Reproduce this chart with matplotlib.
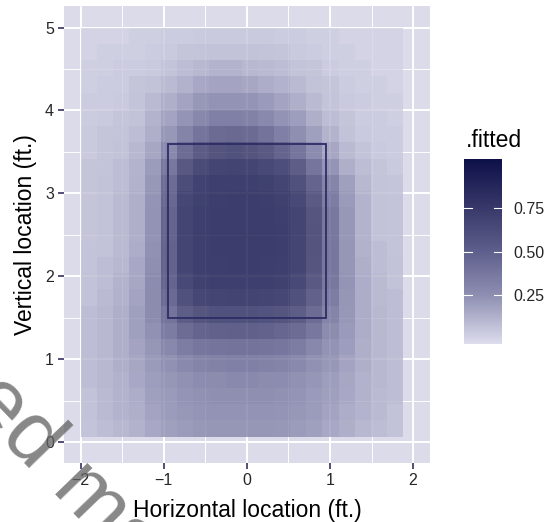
import numpy as np
import matplotlib.pyplot as plt
from matplotlib.colors import LinearSegmentedColormap, Normalize
from matplotlib.cm import ScalarMappable
from matplotlib.patches import Rectangle

plt.rcParams['font.family'] = ['Liberation Sans', 'DejaVu Sans']

# tile centres (ft.)
plate_x = [-1.90, -1.71, -1.52, -1.32, -1.13, -0.93, -0.74, -0.55, -0.35, -0.16,
           0.04, 0.23, 0.43, 0.62, 0.81, 1.01, 1.20, 1.40, 1.59, 1.78]
# rows listed from top to bottom
plate_z = [4.90, 4.70, 4.51, 4.31, 4.11, 3.91, 3.72, 3.52, 3.32, 3.12, 2.93, 2.73, 2.53,
           2.33, 2.14, 1.94, 1.74, 1.54, 1.34, 1.15, 0.95, 0.75, 0.55, 0.36, 0.16]

# fitted strike probability, one row per plate_z value
fitted = [
    [0.01, 0.01, 0.01, 0.03, 0.03, 0.04, 0.04, 0.05, 0.05, 0.05, 0.05, 0.05, 0.04, 0.04, 0.03, 0.03, 0.01, 0.01, 0.01, 0.01],
    [0.01, 0.03, 0.03, 0.03, 0.04, 0.05, 0.07, 0.08, 0.09, 0.09, 0.09, 0.08, 0.07, 0.05, 0.04, 0.03, 0.03, 0.01, 0.01, 0.01],
    [0.03, 0.03, 0.04, 0.04, 0.05, 0.08, 0.11, 0.13, 0.15, 0.15, 0.13, 0.12, 0.11, 0.08, 0.07, 0.04, 0.03, 0.03, 0.01, 0.01],
    [0.03, 0.04, 0.04, 0.07, 0.09, 0.12, 0.16, 0.20, 0.22, 0.22, 0.21, 0.18, 0.16, 0.12, 0.09, 0.07, 0.04, 0.03, 0.03, 0.01],
    [0.04, 0.04, 0.05, 0.08, 0.12, 0.17, 0.22, 0.29, 0.32, 0.32, 0.31, 0.27, 0.22, 0.17, 0.12, 0.08, 0.05, 0.04, 0.03, 0.03],
    [0.04, 0.05, 0.07, 0.09, 0.15, 0.22, 0.31, 0.39, 0.44, 0.45, 0.43, 0.38, 0.32, 0.25, 0.17, 0.11, 0.07, 0.04, 0.04, 0.03],
    [0.05, 0.07, 0.08, 0.11, 0.17, 0.29, 0.42, 0.53, 0.60, 0.62, 0.60, 0.54, 0.45, 0.35, 0.24, 0.15, 0.09, 0.05, 0.04, 0.04],
    [0.05, 0.07, 0.09, 0.13, 0.21, 0.38, 0.59, 0.73, 0.79, 0.81, 0.79, 0.75, 0.66, 0.52, 0.36, 0.21, 0.12, 0.08, 0.05, 0.04],
    [0.07, 0.08, 0.11, 0.15, 0.26, 0.50, 0.76, 0.87, 0.92, 0.93, 0.92, 0.89, 0.84, 0.71, 0.52, 0.31, 0.17, 0.11, 0.07, 0.05],
    [0.07, 0.09, 0.11, 0.16, 0.29, 0.59, 0.85, 0.94, 0.97, 0.97, 0.97, 0.96, 0.92, 0.82, 0.66, 0.41, 0.24, 0.13, 0.08, 0.07],
    [0.07, 0.09, 0.12, 0.17, 0.31, 0.63, 0.90, 0.96, 0.98, 0.99, 0.99, 0.98, 0.96, 0.89, 0.74, 0.46, 0.27, 0.15, 0.09, 0.08],
    [0.07, 0.09, 0.12, 0.17, 0.32, 0.66, 0.92, 0.97, 0.99, 0.99, 0.99, 0.99, 0.97, 0.92, 0.78, 0.50, 0.29, 0.15, 0.09, 0.08],
    [0.07, 0.09, 0.12, 0.17, 0.32, 0.66, 0.92, 0.97, 0.99, 0.99, 0.99, 0.99, 0.98, 0.92, 0.79, 0.50, 0.29, 0.15, 0.09, 0.08],
    [0.08, 0.09, 0.12, 0.18, 0.33, 0.67, 0.92, 0.97, 0.99, 0.99, 0.99, 0.99, 0.98, 0.92, 0.79, 0.51, 0.30, 0.16, 0.11, 0.08],
    [0.08, 0.11, 0.13, 0.20, 0.35, 0.67, 0.92, 0.97, 0.98, 0.99, 0.99, 0.98, 0.97, 0.92, 0.78, 0.51, 0.30, 0.17, 0.11, 0.09],
    [0.09, 0.11, 0.15, 0.21, 0.36, 0.66, 0.89, 0.95, 0.97, 0.97, 0.97, 0.97, 0.95, 0.89, 0.75, 0.50, 0.31, 0.18, 0.12, 0.09],
    [0.09, 0.12, 0.16, 0.22, 0.37, 0.61, 0.82, 0.90, 0.92, 0.93, 0.93, 0.92, 0.90, 0.82, 0.68, 0.46, 0.30, 0.18, 0.12, 0.11],
    [0.11, 0.13, 0.17, 0.24, 0.36, 0.54, 0.71, 0.78, 0.81, 0.82, 0.82, 0.80, 0.78, 0.71, 0.59, 0.42, 0.29, 0.18, 0.13, 0.11],
    [0.11, 0.13, 0.17, 0.24, 0.33, 0.47, 0.59, 0.65, 0.68, 0.69, 0.69, 0.67, 0.64, 0.59, 0.50, 0.37, 0.27, 0.18, 0.13, 0.11],
    [0.11, 0.13, 0.17, 0.22, 0.30, 0.39, 0.46, 0.51, 0.53, 0.54, 0.54, 0.53, 0.51, 0.46, 0.39, 0.32, 0.25, 0.17, 0.13, 0.11],
    [0.11, 0.13, 0.17, 0.21, 0.27, 0.33, 0.38, 0.42, 0.43, 0.44, 0.44, 0.43, 0.42, 0.38, 0.33, 0.29, 0.22, 0.17, 0.13, 0.11],
    [0.11, 0.13, 0.16, 0.20, 0.25, 0.30, 0.33, 0.36, 0.37, 0.38, 0.38, 0.37, 0.36, 0.33, 0.30, 0.25, 0.21, 0.16, 0.13, 0.11],
    [0.09, 0.12, 0.15, 0.18, 0.24, 0.27, 0.31, 0.33, 0.35, 0.35, 0.35, 0.35, 0.33, 0.31, 0.27, 0.24, 0.20, 0.16, 0.12, 0.11],
    [0.09, 0.12, 0.15, 0.17, 0.22, 0.26, 0.29, 0.31, 0.32, 0.32, 0.32, 0.32, 0.31, 0.29, 0.26, 0.22, 0.18, 0.15, 0.12, 0.09],
    [0.08, 0.11, 0.13, 0.16, 0.20, 0.24, 0.26, 0.29, 0.30, 0.30, 0.30, 0.30, 0.29, 0.26, 0.24, 0.20, 0.17, 0.13, 0.11, 0.09],
]

# strike zone box (ft.)
zone_x = [-0.95, 0.95]
zone_z = [1.5, 3.6]

legend_ticks = [0.25, 0.50, 0.75]

W, H = 553, 522
fig = plt.figure(figsize=(W / 100, H / 100), dpi=100)

# colour scale
vmin, vmax = -0.03, 1.03
stops = [vmin, 0.25, 0.50, 0.75, vmax]
cols = ['#dcdcec', '#8e8eb2', '#5f5f8d', '#38386a', '#0e1048']
cmap = LinearSegmentedColormap.from_list(
    'fit', [((s - vmin) / (vmax - vmin), c) for s, c in zip(stops, cols)])
norm = Normalize(vmin, vmax)

# main panel
ax = fig.add_axes([64 / W, (H - 462.7) / H, 365.7 / W, 456.7 / H])
ax.set_facecolor('#dbdbea')
ax.set_xlim(-2.2, 2.2)
ax.set_ylim(-0.25, 5.26)
ax.set_xticks([-2, -1, 0, 1, 2])
ax.set_xticks([-1.5, -0.5, 0.5, 1.5], minor=True)
ax.set_yticks([0, 1, 2, 3, 4, 5])
ax.set_yticks([0.5, 1.5, 2.5, 3.5, 4.5], minor=True)
ax.set_axisbelow(True)
ax.grid(which='major', color='white', lw=1.4)
ax.grid(which='minor', color='white', lw=0.7)
for s in ax.spines.values():
    s.set_visible(False)
ax.tick_params(which='minor', length=0)
ax.tick_params(which='major', length=4.3, width=1.1, color='#1f1f55',
               labelsize=11.5, labelcolor='#262626', pad=3)

ax.pcolormesh(plate_x, plate_z, np.array(fitted), cmap=cmap, norm=norm,
              shading='nearest', alpha=0.8, zorder=1, antialiased=False,
              edgecolors='none')

ax.add_patch(Rectangle((zone_x[0], zone_z[0]), zone_x[1] - zone_x[0],
                       zone_z[1] - zone_z[0], fill=False, ec='#2d2d66',
                       lw=1.3, zorder=3))

fig.text(246.9 / W, (H - 516.7) / H, 'Horizontal location (ft.)',
         ha='center', va='baseline', fontsize=16.5)
fig.text(26 / W, (H - 234.4) / H, 'Vertical location (ft.)',
         ha='center', va='center', rotation=90, fontsize=16.5)

# colour bar legend
cax = fig.add_axes([464.3 / W, (H - 344) / H, 37.4 / W, 184.7 / H])
cb = fig.colorbar(ScalarMappable(norm=norm, cmap=cmap), cax=cax, ticks=legend_ticks)
cb.outline.set_visible(False)
cb.ax.set_yticklabels(['%.2f' % t for t in legend_ticks])
cax.tick_params(length=0, labelsize=11.5, pad=8.7, labelcolor='#262626')
for t in legend_ticks:
    cax.plot([0, 0.2], [t, t], color='white', lw=0.8, transform=cax.get_yaxis_transform())
    cax.plot([0.8, 1], [t, t], color='white', lw=0.8, transform=cax.get_yaxis_transform())
fig.text(465.7 / W, (H - 146.7) / H, '.fitted', ha='left', va='baseline', fontsize=16.5)

# watermark
fig.text(31 / W, (H - 476) / H, 'Copyrighted', rotation=-46, rotation_mode='anchor',
         ha='right', va='baseline', fontsize=62, color='#636363', alpha=0.77)
fig.text(47.6 / W, (H - 493.3) / H, 'material', rotation=-46, rotation_mode='anchor',
         ha='left', va='baseline', fontsize=62, color='#636363', alpha=0.77)

fig.savefig('out.png', dpi=100)
